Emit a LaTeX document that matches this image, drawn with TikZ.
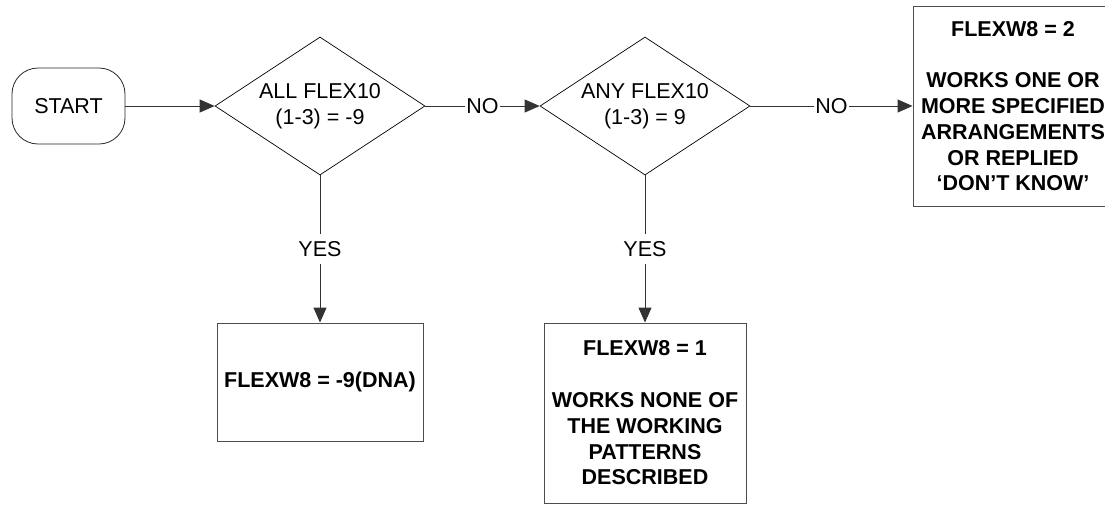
\documentclass[tikz,border=0pt]{standalone}
\usepackage{fontspec}
\setmainfont{Liberation Sans}
\usetikzlibrary{shapes.geometric,arrows.meta}
\begin{document}
\begin{tikzpicture}[x=1pt,y=-1pt,
  every node/.style={font=\fontsize{21.5}{25.8}\selectfont, align=center, inner sep=0pt},
  conn/.style={draw=black!80, line width=0.9pt},
  arr/.style={conn, -{Triangle[length=15pt,width=13pt]}},
  startbox/.style={rectangle, rounded corners=26pt, draw=black!85, line width=0.8pt, minimum width=113pt, minimum height=76pt},
  decision/.style={diamond, draw=black, line width=0.7pt, aspect=1.5, minimum width=210pt, minimum height=138pt},
  outbox/.style={rectangle, draw=black!70, line width=0.9pt, font=\bfseries\fontsize{21.5}{25.8}\selectfont},
  lbl/.style={fill=white, inner xsep=1pt, inner ysep=1pt},
  vlbl/.style={fill=white, inner xsep=1pt, inner ysep=7pt}
]
\useasboundingbox (0,0) rectangle (1105,504);
\clip (0,0) rectangle (1105,504);
\node[startbox] (start) at (68.5,106) {START};
\node[decision] (d1) at (320,106) {ALL FLEX10\\(1-3) = -9};
\node[decision] (d2) at (645,106) {ANY FLEX10\\(1-3) = 9};
\node[outbox, minimum width=206pt, minimum height=118pt] (b1) at (320,382) {FLEXW8 = -9(DNA)};
\node[outbox, minimum width=202pt, minimum height=180pt] (b2) at (645,413) {FLEXW8 = 1\\[25.8pt]WORKS NONE OF\\THE WORKING\\PATTERNS\\DESCRIBED};
\node[outbox, minimum width=200pt, minimum height=200pt] (b3) at (1013,106) {FLEXW8 = 2\\[25.8pt]WORKS ONE OR\\MORE SPECIFIED\\ARRANGEMENTS\\OR REPLIED\\‘DON’T KNOW’};
\draw[arr] (start) -- (d1);
\draw[arr] (d1) -- node[lbl] {NO} (d2);
\draw[arr] (d2) -- node[lbl] {NO} (b3);
\draw[arr] (d1) -- node[vlbl] {YES} (b1);
\draw[arr] (d2) -- node[vlbl] {YES} (b2);
\end{tikzpicture}
\end{document}
